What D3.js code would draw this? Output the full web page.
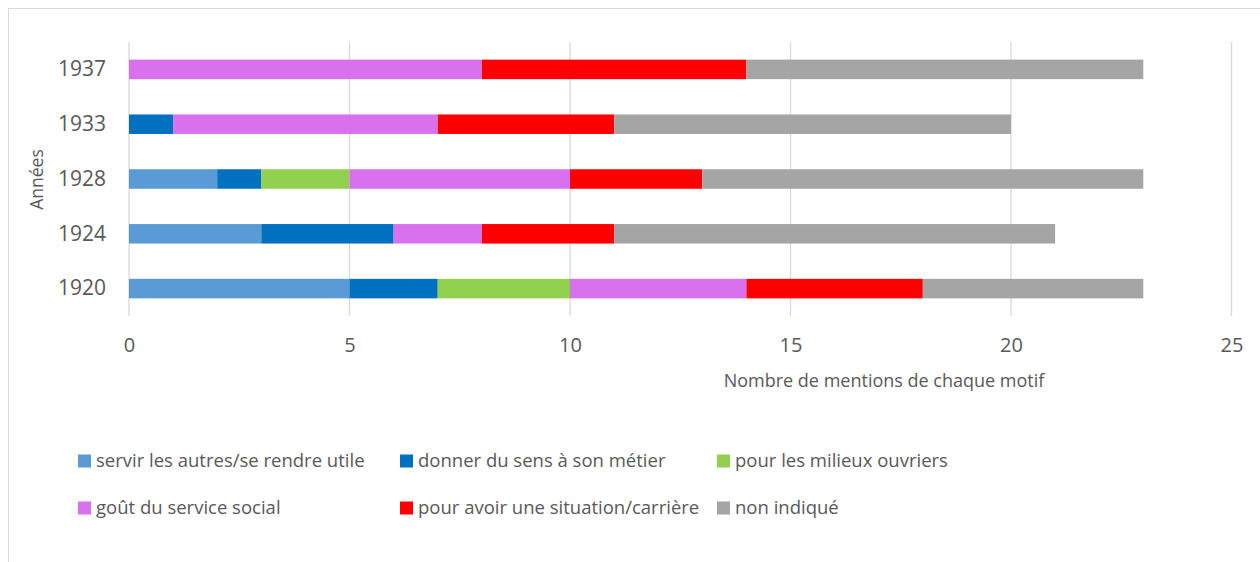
<!DOCTYPE html>
<html>
<head>
<meta charset="utf-8">
<script src="https://cdn.jsdelivr.net/npm/d3@7"></script>
<style>
  body { margin: 0; background: #fff; }
  svg { display: block; font-family: "Open Sans", sans-serif; }
</style>
</head>
<body>
<svg id="chart" width="1260" height="562"></svg>
<script>
// years, top to bottom as drawn
const years = ["1937", "1933", "1928", "1924", "1920"];
const motifs = [
  "servir les autres/se rendre utile",
  "donner du sens à son métier",
  "pour les milieux ouvriers",
  "goût du service social",
  "pour avoir une situation/carrière",
  "non indiqué"
];
const colors = ["#5B9BD5", "#0070C0", "#92D050", "#D970EE", "#FF0000", "#A5A5A5"];
// counts per motif, in the order of `years`
const servir    = [0, 0, 2, 3, 5];
const donner    = [0, 1, 1, 3, 2];
const milieux   = [0, 0, 2, 0, 3];
const gout      = [8, 6, 5, 2, 4];
const situation = [6, 4, 3, 3, 4];
const nonIndique = [9, 9, 10, 10, 5];
const xTicks = [0, 5, 10, 15, 20, 25];

const series = [servir, donner, milieux, gout, situation, nonIndique];
const rows = years.map((y, i) => {
  const r = { year: y };
  motifs.forEach((m, k) => r[m] = series[k][i]);
  return r;
});

const svg = d3.select("#chart");
const textColor = "#595959";

// chart frame (extends past the window on right/bottom)
svg.append("rect")
  .attr("x", 8.5).attr("y", 8.5)
  .attr("width", 1300).attr("height", 600)
  .attr("fill", "none").attr("stroke", "#D9D9D9");

const x = d3.scaleLinear().domain([0, 25]).range([129, 1231.5]);
const y = d3.scaleBand().domain(years).range([42, 316])
  .paddingInner(0.644).paddingOuter(0.322);

// gridlines
svg.append("g")
  .selectAll("line")
  .data(xTicks)
  .join("line")
  .attr("x1", d => x(d)).attr("x2", d => x(d))
  .attr("y1", 42).attr("y2", 316)
  .attr("stroke", "#D9D9D9").attr("stroke-width", 1.3);

// stacked bars
const stack = d3.stack().keys(motifs)(rows);
svg.append("g")
  .selectAll("g")
  .data(stack)
  .join("g")
  .attr("fill", (d, i) => colors[i])
  .selectAll("rect")
  .data(d => d)
  .join("rect")
  .attr("x", d => x(d[0]))
  .attr("width", d => x(d[1]) - x(d[0]))
  .attr("y", d => y(d.data.year))
  .attr("height", y.bandwidth());

// x axis labels
const xAxis = svg.append("g")
  .attr("transform", "translate(0,316)")
  .call(d3.axisBottom(x).tickValues(xTicks).tickSize(0).tickPadding(22));
xAxis.select(".domain").remove();
xAxis.selectAll("text")
  .attr("fill", textColor).style("font-size", "20px").style("font-family", "Open Sans");

// y axis labels
const yAxis = svg.append("g")
  .attr("transform", "translate(129,0)")
  .call(d3.axisLeft(y).tickSize(0).tickPadding(23));
yAxis.select(".domain").remove();
yAxis.selectAll("text")
  .attr("fill", textColor).style("font-size", "21px").style("font-family", "Open Sans");

// axis titles
svg.append("text")
  .attr("x", 884).attr("y", 381)
  .attr("dy", "0.35em")
  .attr("text-anchor", "middle")
  .attr("fill", textColor).style("font-size", "18px")
  .text("Nombre de mentions de chaque motif");

svg.append("text")
  .attr("transform", "translate(37,179.5) rotate(-90)")
  .attr("dy", "0.35em")
  .attr("text-anchor", "middle")
  .attr("fill", textColor).style("font-size", "17.5px")
  .text("Années");

// legend
const legendCols = [78, 400, 717];
const legendRows = [461, 508];
const legend = svg.append("g")
  .selectAll("g")
  .data(motifs)
  .join("g")
  .attr("transform", (d, i) => `translate(${legendCols[i % 3]},${legendRows[Math.floor(i / 3)]})`);
legend.append("rect")
  .attr("x", 0).attr("y", -6.5)
  .attr("width", 13).attr("height", 13)
  .attr("fill", (d, i) => colors[i]);
legend.append("text")
  .attr("x", 18).attr("dy", "0.35em")
  .attr("fill", textColor).style("font-size", "18.5px")
  .text(d => d);
</script>
</body>
</html>
